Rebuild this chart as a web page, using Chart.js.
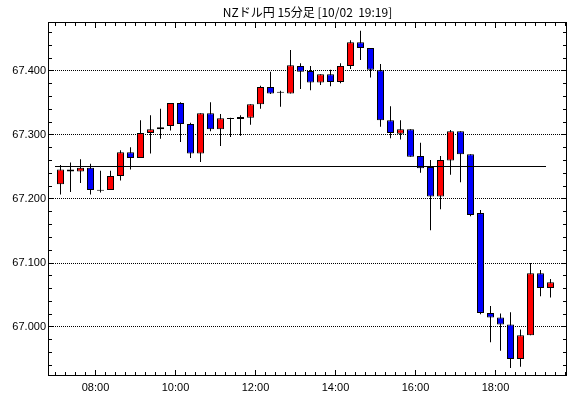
<!DOCTYPE html>
<html>
<head>
<meta charset="utf-8">
<script src="https://cdn.jsdelivr.net/npm/chart.js@4/dist/chart.umd.min.js"></script>
<style>
    html, body { margin: 0; padding: 0; background: white; }
    #chart { display: block; }
</style>
</head>
<body>
<canvas id="chart" width="570" height="398"></canvas>
<script>
// 15-minute bars, NZD/JPY
const times = [
    '07:00', '07:15', '07:30', '07:45', '08:00', '08:15', '08:30', '08:45',
    '09:00', '09:15', '09:30', '09:45', '10:00', '10:15', '10:30', '10:45',
    '11:00', '11:15', '11:30', '11:45', '12:00', '12:15', '12:30', '12:45',
    '13:00', '13:15', '13:30', '13:45', '14:00', '14:15', '14:30', '14:45',
    '15:00', '15:15', '15:30', '15:45', '16:00', '16:15', '16:30', '16:45',
    '17:00', '17:15', '17:30', '17:45', '18:00', '18:15', '18:30', '18:45',
    '19:00', '19:15'
];
const openP = [
    67.223, 67.246, 67.243, 67.249, 67.213, 67.214, 67.236, 67.273,
    67.264, 67.303, 67.309, 67.314, 67.350, 67.317, 67.271, 67.334,
    67.309, 67.325, 67.325, 67.327, 67.348, 67.375, 67.366, 67.365,
    67.408, 67.400, 67.382, 67.395, 67.383, 67.408, 67.445, 67.436,
    67.401, 67.323, 67.302, 67.309, 67.267, 67.250, 67.204, 67.260,
    67.306, 67.270, 67.178, 67.022, 67.015, 67.004, 66.950, 66.987,
    67.084, 67.061
];
const highP = [
    67.253, 67.257, 67.262, 67.255, 67.244, 67.244, 67.276, 67.281,
    67.323, 67.331, 67.341, 67.350, 67.351, 67.319, 67.334, 67.351,
    67.333, 67.327, 67.331, 67.348, 67.377, 67.399, 67.369, 67.433,
    67.412, 67.408, 67.395, 67.402, 67.412, 67.448, 67.463, 67.436,
    67.411, 67.345, 67.323, 67.309, 67.288, 67.261, 67.267, 67.308,
    67.306, 67.270, 67.183, 67.033, 67.021, 67.023, 66.996, 67.100,
    67.089, 67.075
];
const lowP = [
    67.207, 67.211, 67.225, 67.207, 67.210, 67.214, 67.229, 67.246,
    67.264, 67.271, 67.294, 67.307, 67.289, 67.264, 67.258, 67.306,
    67.283, 67.297, 67.299, 67.316, 67.341, 67.364, 67.344, 67.365,
    67.372, 67.370, 67.378, 67.376, 67.381, 67.403, 67.417, 67.390,
    67.313, 67.295, 67.293, 67.266, 67.241, 67.151, 67.184, 67.238,
    67.226, 67.173, 67.020, 66.976, 66.963, 66.936, 66.938, 66.987,
    67.048, 67.046
];
const closeP = [
    67.246, 67.243, 67.249, 67.214, 67.213, 67.236, 67.273, 67.264,
    67.303, 67.309, 67.312, 67.350, 67.317, 67.271, 67.334, 67.309,
    67.326, 67.325, 67.328, 67.348, 67.375, 67.365, 67.366, 67.409,
    67.399, 67.382, 67.395, 67.383, 67.408, 67.445, 67.436, 67.402,
    67.323, 67.303, 67.309, 67.266, 67.248, 67.204, 67.261, 67.306,
    67.270, 67.175, 67.022, 67.015, 67.004, 66.950, 66.987, 67.084,
    67.061, 67.070
];
const yTicks = [67.0, 67.1, 67.2, 67.3, 67.4];
const xTickHours = [8, 10, 12, 14, 16, 18];
const refLevel = 67.25;
const refFrom = '07:00';
const refTo = '19:15';
const titleText = 'NZドル円 15分足 [10/02  19:19]';

// hours as decimal, bar centred in its 15 min slot
function toHour(t) {
    const [h, m] = t.split(':').map(Number);
    return h + m / 60;
}
const xs = times.map(t => toHour(t) + 0.125);

const wickData = xs.map((x, i) => ({ x: x, y: [lowP[i], highP[i]] }));
const bodyData = xs.map((x, i) => ({ x: x, y: [openP[i], closeP[i]] }));
const bodyColors = openP.map((o, i) => closeP[i] >= o ? '#ff0000' : '#0000ff');

// reference level line, drawn on top of the candles
const refLine = {
    id: 'refLine',
    afterDatasetsDraw(chart, args, options) {
        const { ctx, scales: { x, y } } = chart;
        const py = Math.floor(y.getPixelForValue(options.level)) + 0.5;
        ctx.save();
        ctx.strokeStyle = 'black';
        ctx.lineWidth = 1;
        ctx.beginPath();
        ctx.moveTo(Math.round(x.getPixelForValue(options.from)), py);
        ctx.lineTo(Math.round(x.getPixelForValue(options.to)), py);
        ctx.stroke();
        ctx.restore();
    }
};

// frame with inward ticks on all four sides
const frameTicks = {
    id: 'frameTicks',
    afterDatasetsDraw(chart) {
        const { ctx, chartArea: { left, top, right, bottom }, scales: { x, y } } = chart;
        ctx.save();
        ctx.strokeStyle = 'black';
        ctx.lineWidth = 1;
        ctx.beginPath();
        for (let q = Math.ceil(x.min * 4); q <= Math.floor(x.max * 4); q++) {
            const px = Math.floor(x.getPixelForValue(q / 4)) + 0.5;
            const len = q % 8 === 0 ? 5 : 3;
            ctx.moveTo(px, bottom);
            ctx.lineTo(px, bottom - len);
            ctx.moveTo(px, top);
            ctx.lineTo(px, top + len);
        }
        for (let k = Math.ceil(y.min * 50 - 1e-6); k <= Math.floor(y.max * 50 + 1e-6); k++) {
            const py = Math.floor(y.getPixelForValue(k / 50)) + 0.5;
            const len = k % 5 === 0 ? 5 : 3;
            ctx.moveTo(left, py);
            ctx.lineTo(left + len, py);
            ctx.moveTo(right, py);
            ctx.lineTo(right - len, py);
        }
        ctx.stroke();
        ctx.strokeRect(left - 0.5, top - 0.5, right - left + 1, bottom - top + 1);
        ctx.restore();
    }
};

Chart.defaults.font.family = "'Liberation Sans', sans-serif";
Chart.defaults.font.size = 11;
Chart.defaults.color = 'black';

var ctx = document.getElementById('chart');
var myChart = new Chart(ctx, {
    type: 'bar',
    data: {
        datasets: [{
            label: 'body',
            data: bodyData,
            backgroundColor: bodyColors,
            borderColor: 'black',
            borderWidth: 1,
            borderSkipped: false,
            barThickness: 7,
            minBarLength: 1,
            inflateAmount: 0,
            grouped: false,
            order: 1
        },
        {
            label: 'wick',
            data: wickData,
            backgroundColor: 'black',
            borderWidth: 0,
            barThickness: 1,
            inflateAmount: 0,
            grouped: false,
            order: 2
        }]
    },
    options: {
        responsive: false,
        animation: false,
        layout: {
            padding: { left: 0, right: 4, top: 0, bottom: 0 }
        },
        scales: {
            x: {
                type: 'linear',
                min: 6.8375,
                max: 19.7625,
                offset: false,
                grid: { display: false, drawTicks: false },
                border: { display: false },
                afterBuildTicks(scale) {
                    scale.ticks = xTickHours.map(v => ({ value: v }));
                },
                ticks: {
                    autoSkip: false,
                    maxRotation: 0,
                    padding: 6,
                    callback: v => String(v).padStart(2, '0') + ':00'
                },
                afterFit(scale) { scale.height = 23; }
            },
            y: {
                type: 'linear',
                min: 66.925,
                max: 67.475,
                grid: { color: 'black', lineWidth: 1, drawTicks: false },
                border: { display: false, dash: [1, 1] },
                afterBuildTicks(scale) {
                    scale.ticks = yTicks.map(v => ({ value: v }));
                },
                ticks: {
                    padding: 3,
                    callback: v => v.toFixed(3)
                },
                afterFit(scale) { scale.width = 49; }
            }
        },
        plugins: {
            legend: { display: false },
            tooltip: { enabled: false },
            title: {
                display: true,
                text: titleText,
                fullSize: false,
                color: 'black',
                font: { family: "'Noto Sans CJK JP', sans-serif", size: 12, weight: 'normal' },
                padding: { top: 5, bottom: 3.6 }
            },
            refLine: {
                level: refLevel,
                from: toHour(refFrom),
                to: toHour(refTo)
            }
        }
    },
    plugins: [refLine, frameTicks]
});
</script>
</body>
</html>
